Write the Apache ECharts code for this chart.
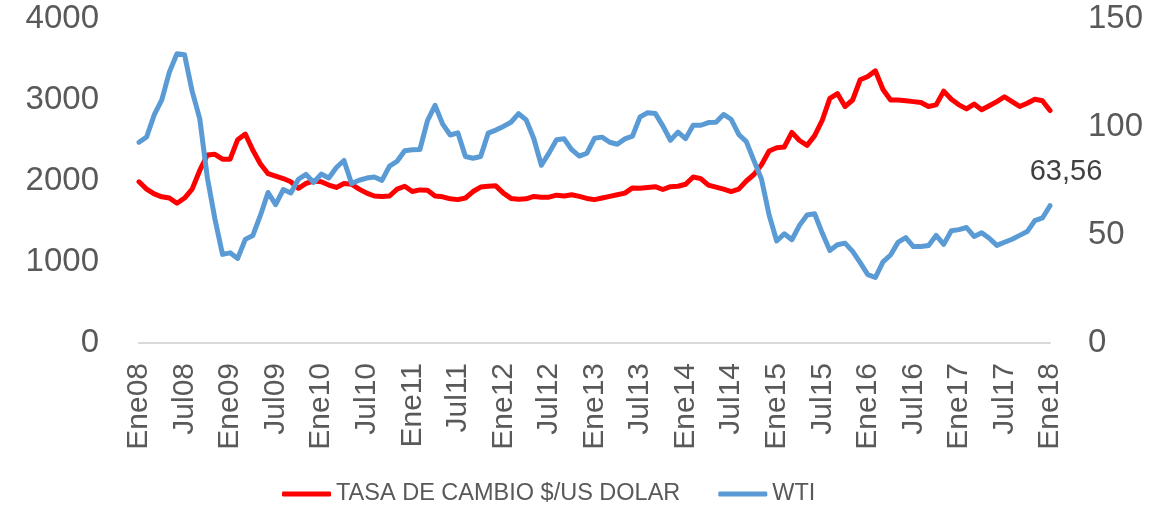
<!DOCTYPE html>
<html>
<head>
<meta charset="utf-8">
<script src="https://cdn.jsdelivr.net/npm/echarts@6/dist/echarts.min.js"></script>
<style>
  html, body { margin: 0; padding: 0; background: #fff; }
  #chart { width: 1157px; height: 512px; }
</style>
</head>
<body>
<div id="chart"></div>
<script>
// month names and years for the category axis
const monthNames = ['Ene', 'Feb', 'Mar', 'Abr', 'May', 'Jun', 'Jul', 'Ago', 'Sep', 'Oct', 'Nov', 'Dic']
const years = ['08', '09', '10', '11', '12', '13', '14', '15', '16', '17', '18']

// TASA DE CAMBIO $/US DOLAR, monthly Ene08 .. Ene18
const tasaCambio = [
  1990, 1900, 1840, 1805, 1790, 1725, 1790, 1900, 2130, 2320, 2330, 2270,
  2270, 2510, 2580, 2380, 2210, 2090, 2060, 2030, 1990, 1910, 1970, 2000,
  1990, 1950, 1920, 1970, 1960, 1900, 1850, 1815, 1810, 1815, 1900, 1935,
  1870, 1890, 1885, 1815, 1805, 1780, 1770, 1790, 1870, 1925, 1935, 1940,
  1850, 1785, 1775, 1780, 1810, 1800, 1800, 1825, 1815, 1830, 1810, 1785,
  1770, 1790, 1810, 1830, 1850, 1915, 1910, 1920, 1930, 1895, 1930, 1935,
  1960, 2050, 2030, 1950, 1925, 1900, 1870, 1900, 2000, 2080, 2200, 2370,
  2410, 2420, 2600, 2500, 2440, 2560, 2750, 3020, 3080, 2920, 3000, 3250,
  3290, 3360, 3130, 3000, 3000, 2990, 2980, 2970, 2920, 2940, 3110, 3010,
  2940, 2890, 2950, 2880, 2930, 2980, 3040, 2980, 2920, 2960, 3010, 2990,
  2870
]

// WTI, monthly Ene08 .. Ene18
const wti = [
  92.95, 95.35, 105.56, 112.57, 125.39, 133.93, 133.44, 116.61, 103.90, 76.65, 57.44, 41.02,
  41.74, 39.16, 47.98, 49.79, 59.16, 69.68, 64.09, 71.06, 69.46, 75.82, 78.08, 74.30,
  78.22, 76.42, 81.24, 84.48, 73.84, 75.35, 76.37, 76.82, 75.31, 81.90, 84.14, 89.04,
  89.42, 89.58, 102.94, 110.04, 101.33, 96.29, 97.30, 86.33, 85.52, 86.32, 97.16, 98.56,
  100.27, 102.20, 106.16, 103.32, 94.66, 82.30, 87.90, 94.13, 94.51, 89.49, 86.53, 87.86,
  94.76, 95.31, 92.94, 92.02, 94.51, 95.77, 104.67, 106.57, 106.29, 100.54, 93.86, 97.63,
  94.62, 100.82, 100.80, 102.07, 102.18, 105.79, 103.59, 96.54, 93.21, 84.40, 75.79, 59.29,
  47.22, 50.58, 47.82, 54.45, 59.27, 59.82, 50.90, 42.87, 45.48, 46.22, 42.44, 37.19,
  31.68, 30.32, 37.55, 40.75, 46.71, 48.76, 44.65, 44.72, 45.18, 49.78, 45.66, 51.97,
  52.50, 53.47, 49.33, 51.06, 48.48, 45.18, 46.63, 48.04, 49.82, 51.58, 56.64, 57.88,
  63.56
]

// build category labels Ene08, Feb08, ... Ene18
const categories = []
years.forEach((y, i) => {
  monthNames.forEach((m, j) => {
    if (i < years.length - 1 || j === 0) categories.push(m + y)
  })
})

// only the last WTI point gets a label
const wtiData = wti.map((v, i) =>
  i === wti.length - 1 ? { value: v, label: { show: true } } : v
)

const font = 'Liberation Sans'
const chart = echarts.init(document.getElementById('chart'))

const option = {
  animation: false,
  grid: { left: 139, right: 107, top: 19, bottom: 169 },
  legend: {
    left: 282,
    top: 482,
    padding: 0,
    itemWidth: 49,
    itemHeight: 5,
    itemGap: 38,
    icon: 'roundRect',
    textStyle: { fontFamily: font, fontSize: 23.5, color: '#595959' },
    data: ['TASA DE CAMBIO $/US DOLAR', 'WTI']
  },
  xAxis: {
    type: 'category',
    data: categories,
    boundaryGap: false,
    axisLine: { lineStyle: { color: '#D9D9D9', width: 2 } },
    axisTick: { show: false },
    axisLabel: {
      interval: 5,
      rotate: 90,
      margin: 20,
      fontFamily: font,
      fontSize: 30,
      color: '#595959'
    }
  },
  yAxis: [
    {
      type: 'value',
      min: 0,
      max: 4000,
      interval: 1000,
      axisLine: { show: false },
      axisTick: { show: false },
      splitLine: { show: false },
      axisLabel: { margin: 40, fontFamily: font, fontSize: 33, color: '#595959', formatter: (v) => String(v) }
    },
    {
      type: 'value',
      min: 0,
      max: 150,
      interval: 50,
      axisLine: { show: false },
      axisTick: { show: false },
      splitLine: { show: false },
      axisLabel: { margin: 38, fontFamily: font, fontSize: 33, color: '#595959', formatter: (v) => String(v) }
    }
  ],
  series: [
    {
      name: 'TASA DE CAMBIO $/US DOLAR',
      type: 'line',
      yAxisIndex: 0,
      data: tasaCambio,
      symbol: 'none',
      color: '#FF0000',
      lineStyle: { width: 5, color: '#FF0000', join: 'round', cap: 'round' }
    },
    {
      name: 'WTI',
      type: 'line',
      yAxisIndex: 1,
      data: wtiData,
      symbol: 'circle',
      symbolSize: 0,
      showSymbol: true,
      showAllSymbol: true,
      color: '#5B9BD5',
      lineStyle: { width: 5, color: '#5B9BD5', join: 'round', cap: 'round' },
      label: {
        show: false,
        position: 'top',
        offset: [16, -14],
        fontFamily: font,
        fontSize: 29,
        color: '#404040',
        formatter: (p) => p.value.toFixed(2).replace('.', ',')
      }
    }
  ]
}

chart.setOption(option)
</script>
</body>
</html>
